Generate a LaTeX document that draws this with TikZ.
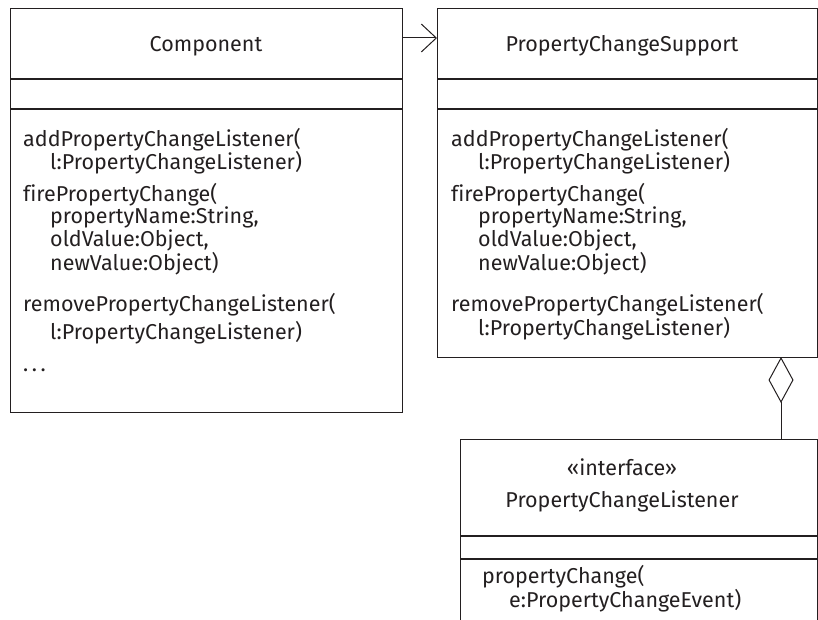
\documentclass[tikz,border=0pt]{standalone}
\usepackage{fontspec}
\setmainfont{Fira Sans}[Ligatures=NoCommon]
\usepackage{tikz}
\usetikzlibrary{arrows.meta,positioning}
\definecolor{ink}{HTML}{231F20}
\tikzset{
  classbox/.style={draw=ink,line width=1.1pt,rectangle,anchor=north west,inner sep=0pt},
  divider/.style={draw=ink,line width=1.6pt},
  title/.style={text=ink,font=\fontsize{21.5}{22.3}\selectfont,anchor=base,inner sep=0pt},
  method/.style={text=ink,font=\fontsize{21.5}{22.3}\selectfont,align=left,anchor=base west,inner sep=0pt},
  link/.style={draw=ink,line width=1pt}
}
\newcommand{\ind}{\hspace*{27pt}}
\begin{document}
\begin{tikzpicture}[x=1pt,y=-1pt]
  \useasboundingbox (0,0) rectangle (818,620);
  % class boxes
  \node[classbox,minimum width=392pt,minimum height=404pt] (comp) at (10,8) {};
  \node[classbox,minimum width=380pt,minimum height=349pt] (pcs) at (437,8) {};
  \node[classbox,minimum width=357pt,minimum height=200pt] (pcl) at (460,439) {};
  % compartments
  \draw[divider] (10,79) -- (402,79) (10,109) -- (402,109);
  \draw[divider] (437,79) -- (817,79) (437,109) -- (817,109);
  \draw[divider] (460,536) -- (817,536) (460,559) -- (817,559);
  % names
  \node[title] (compName) at (206,52) {Component};
  \node[title] (pcsName) at (622,52) {PropertyChangeSupport};
  \node[title] (pclStereo) at (622,475) {«interface»};
  \node[title] (pclName) at (622,507) {PropertyChangeListener};
  % operations of Component (anchored at the last baseline)
  \node[method] (compAdd) at (23,170) {addPropertyChangeListener(\\\ind l:PropertyChangeListener)};
  \node[method] (compFire) at (23,270) {firePropertyChange(\\\ind propertyName:String,\\\ind oldValue:Object,\\\ind newValue:Object)};
  \node[method] (compRemove) at (23,339) {removePropertyChangeListener(\\[3.7pt]\ind l:PropertyChangeListener)};
  \node[method] (compMore) at (23,371) {.\,.\,.};
  % operations of PropertyChangeSupport
  \node[method] (pcsAdd) at (451,170) {addPropertyChangeListener(\\\ind l:PropertyChangeListener)};
  \node[method] (pcsFire) at (451,270) {firePropertyChange(\\\ind propertyName:String,\\\ind oldValue:Object,\\\ind newValue:Object)};
  \node[method] (pcsRemove) at (451,335) {removePropertyChangeListener(\\\ind l:PropertyChangeListener)};
  % operation of PropertyChangeListener
  \node[method] (pclChange) at (482,607) {propertyChange(\\\ind e:PropertyChangeEvent)};
  % relations
  \coordinate (nav) at (420,38);
  \coordinate (aggr) at (781,357);
  \draw[link,-{Straight Barb[length=15pt,width=28pt]}] (comp.east |- nav) -- (pcs.west |- nav);
  \draw[link,{Diamond[open,length=46pt,width=25pt]}-] (aggr) -- (aggr |- pcl.north);
\end{tikzpicture}
\end{document}
